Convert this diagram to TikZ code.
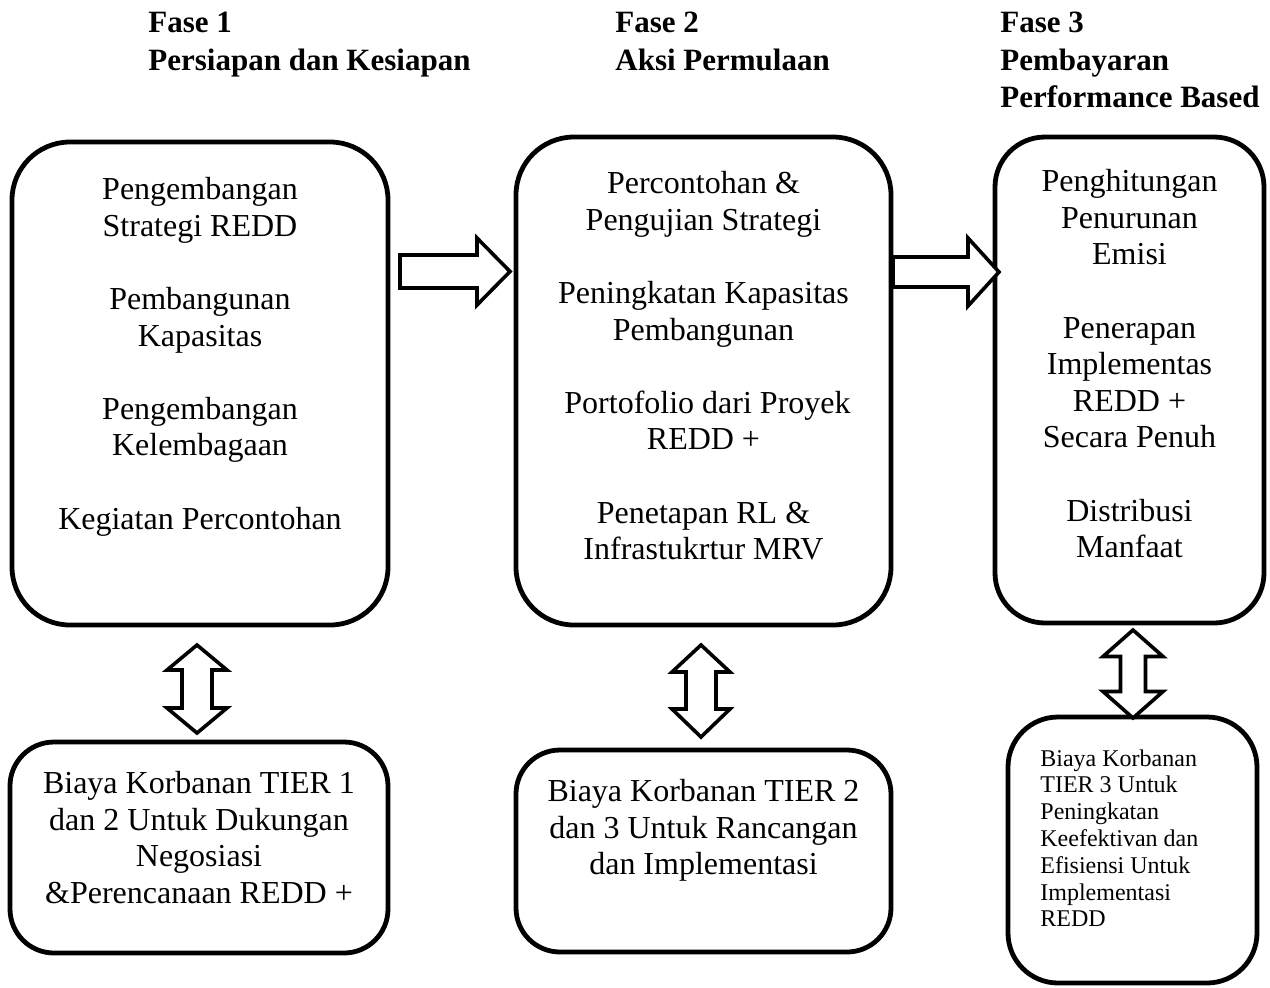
\documentclass[tikz,border=0pt]{standalone}
\usepackage{fontspec}
\setmainfont{Liberation Serif}
\usetikzlibrary{positioning}

\tikzset{
  phasebox/.style={draw, line width=2.4pt, rounded corners=29pt, inner sep=0pt, outer sep=0pt},
  costbox/.style={draw, line width=2.4pt, rounded corners=22pt, inner sep=0pt, outer sep=0pt},
  body/.style={align=center, inner sep=0pt, anchor=north, font=\fontsize{16}{18.3}\selectfont},
  small/.style={align=left, inner sep=0pt, anchor=north west, font=\fontsize{12}{13.4}\selectfont},
  phase/.style={align=left, inner sep=0pt, anchor=north west, font=\fontsize{15.5}{18.7}\selectfont\bfseries},
  blockarrow/.style={draw, line width=1.8pt, fill=white, line join=miter}
}

\begin{document}
\begin{tikzpicture}[x=0.5pt, y=-0.5pt]
\useasboundingbox (0,0) rectangle (1270,987);

% headings
\node[phase] (f1) at (148,12) {Fase 1\\Persiapan dan Kesiapan};
\node[phase] (f2) at (615,12) {Fase 2\\Aksi Permulaan};
\node[phase] (f3) at (1000,12) {Fase 3\\Pembayaran\\Performance Based};

% phase boxes
\node[phasebox, minimum width=188pt, minimum height=241.5pt] (b1) at (200,383.5) {};
\node[phasebox, minimum width=187.5pt, minimum height=244pt] (b2) at (703.5,381) {};
\node[phasebox, minimum width=134.5pt, minimum height=243pt, rounded corners=25pt] (b3) at (1129.5,380) {};

\node[body, below=17.5pt of b1.north] (t1) {Pengembangan\\Strategi REDD\\[18.3pt]Pembangunan\\Kapasitas\\[18.3pt]Pengembangan\\Kelembagaan\\[18.3pt]Kegiatan Percontohan};
\node[body, below=17pt of b2.north] (t2) {Percontohan \&\\Pengujian Strategi\\[18.3pt]Peningkatan Kapasitas\\Pembangunan\\[18.3pt]\ Portofolio dari Proyek\\REDD +\\[18.3pt]Penetapan RL \&\\Infrastukrtur MRV};
\node[body, below=16pt of b3.north] (t3) {Penghitungan\\Penurunan\\Emisi\\[18.3pt]Penerapan\\Implementas\\REDD +\\Secara Penuh\\[18.3pt]Distribusi\\Manfaat};

% cost boxes
\node[costbox, minimum width=189pt, minimum height=105.5pt] (c1) at (199,847.5) {};
\node[costbox, minimum width=187.5pt, minimum height=101pt] (c2) at (703.5,851) {};
\node[costbox, minimum width=124.5pt, minimum height=133pt, rounded corners=25pt] (c3) at (1132.5,850) {};

\node[body, below=14.5pt of c1.north] (u1) {Biaya Korbanan TIER 1\\dan 2 Untuk Dukungan\\Negosiasi\\\&Perencanaan REDD +};
\node[body, below=14.5pt of c2.north] (u2) {Biaya Korbanan TIER 2\\dan 3 Untuk Rancangan\\dan Implementasi};
\node[small, below right=16pt and 16pt of c3.north west] (u3) {Biaya Korbanan\\TIER 3 Untuk\\Peningkatan\\Keefektivan dan\\Efisiensi Untuk\\Implementasi\\REDD};

% arrows between phases
\draw[blockarrow, shift={(400,271.5)}] (0,-16.5) -- (77,-16.5) -- (77,-33.5) -- (110,0) -- (77,33.5) -- (77,16.5) -- (0,16.5) -- cycle;
\draw[blockarrow, shift={(893,272)}] (0,-15) -- (75,-15) -- (75,-34) -- (106,0) -- (75,34) -- (75,15) -- (0,15) -- cycle;

% arrows to cost boxes
\draw[blockarrow, shift={(197,689)}] (0,-44) -- (30,-19) -- (15,-19) -- (15,19) -- (30,19) -- (0,44) -- (-30,19) -- (-15,19) -- (-15,-19) -- (-30,-19) -- cycle;
\draw[blockarrow, shift={(701,691)}] (0,-46) -- (29,-19) -- (15,-19) -- (15,18) -- (29,18) -- (0,46) -- (-29,18) -- (-15,18) -- (-15,-19) -- (-29,-19) -- cycle;
\draw[blockarrow, shift={(1133,674)}] (0,-44) -- (30,-17.5) -- (12.5,-17.5) -- (12.5,17.5) -- (30,17.5) -- (0,44) -- (-30,17.5) -- (-12.5,17.5) -- (-12.5,-17.5) -- (-30,-17.5) -- cycle;
\end{tikzpicture}
\end{document}
